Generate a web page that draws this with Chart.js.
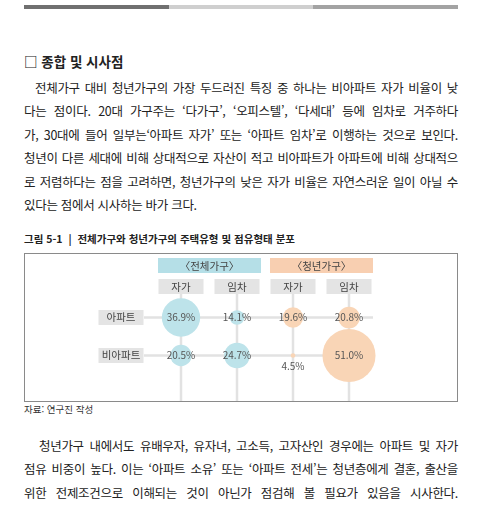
<!DOCTYPE html>
<html lang="ko">
<head>
<meta charset="utf-8">
<script src="https://cdn.jsdelivr.net/npm/chart.js@4.4.1/dist/chart.umd.min.js"></script>
<style>
  body { margin: 0; background: #fff; width: 480px; height: 505px; overflow: hidden;
         font-family: "Noto Sans CJK KR", sans-serif; color: #222; }
  .abs { position: absolute; }
  .bar { position: absolute; top: 5px; height: 4px; }
  .line { display: block; text-align: justify; text-align-last: justify; white-space: nowrap; }
  .para { position: absolute; left: 24px; width: 434px; font-size: 12.5px; line-height: 23.4px; letter-spacing: -0.3px; }
  .para .line { white-space: normal; }
  #box { position: absolute; left: 24px; top: 253px; width: 434px; height: 149px;
         border: 1px solid #8a8a8a; box-sizing: border-box; }
</style>
</head>
<body>
<div class="bar" style="left:24px;width:145px;background:#707070"></div>
<div class="bar" style="left:169px;width:144px;background:#cfcfcf"></div>
<div class="bar" style="left:313px;width:145px;background:#a3a3a3"></div>

<div class="abs" style="left:24px;top:51px;font-size:13.5px;font-weight:bold;color:#222">□ 종합 및 시사점</div>

<div class="para" style="top:76px">
  <span class="line" style="padding-left:11px">전체가구 대비 청년가구의 가장 두드러진 특징 중 하나는 비아파트 자가 비율이 낮</span>
  <span class="line">다는 점이다. 20대 가구주는 ‘다가구’, ‘오피스텔’, ‘다세대’ 등에 임차로 거주하다</span>
  <span class="line">가, 30대에 들어 일부는‘아파트 자가’ 또는 ‘아파트 임차’로 이행하는 것으로 보인다.</span>
  <span class="line">청년이 다른 세대에 비해 상대적으로 자산이 적고 비아파트가 아파트에 비해 상대적으</span>
  <span class="line">로 저렴하다는 점을 고려하면, 청년가구의 낮은 자가 비율은 자연스러운 일이 아닐 수</span>
  <span class="line" style="text-align-last:left">있다는 점에서 시사하는 바가 크다.</span>
</div>

<div class="abs" style="left:24px;top:231px;font-size:10.5px;font-weight:bold;color:#222">그림 5-1 &nbsp;|&nbsp; 전체가구와 청년가구의 주택유형 및 점유형태 분포</div>

<div id="box"><canvas id="bubbleChart" width="432" height="147"></canvas></div>

<div class="abs" style="left:24px;top:402px;font-size:9.5px;color:#333">자료: 연구진 작성</div>

<div class="para" style="top:434px">
  <span class="line" style="padding-left:15px">청년가구 내에서도 유배우자, 유자녀, 고소득, 고자산인 경우에는 아파트 및 자가</span>
  <span class="line">점유 비중이 높다. 이는 ‘아파트 소유’ 또는 ‘아파트 전세’는 청년층에게 결혼, 출산을</span>
  <span class="line">위한 전제조건으로 이해되는 것이 아닌가 점검해 볼 필요가 있음을 시사한다.</span>
</div>

<script>
var groups = ['〈전체가구〉', '〈청년가구〉'];
var tenures = ['자가', '임차', '자가', '임차'];
var housingTypes = ['아파트', '비아파트'];

// [자가, 임차] in %
var totalApt = [36.9, 14.1];
var totalNonApt = [20.5, 24.7];
var youthApt = [19.6, 20.8];
var youthNonApt = [4.5, 51.0];

function points(apt, nonApt, offset) {
    var out = [];
    apt.forEach(function (v, i) { out.push({ x: offset + i, y: 0, v: v }); });
    nonApt.forEach(function (v, i) { out.push({ x: offset + i, y: 1, v: v }); });
    return out;
}

var frame = {
    id: 'frame',
    beforeDatasetsDraw: function (chart) {
        var c = chart.ctx, xs = chart.scales.x, ys = chart.scales.y;
        c.save();
        // grid lines
        c.strokeStyle = '#e2e2e2';
        c.lineWidth = 2.5;
        housingTypes.forEach(function (t, j) {
            var y = ys.getPixelForValue(j);
            c.beginPath();
            c.moveTo(xs.getPixelForValue(0) - 37, y);
            c.lineTo(xs.getPixelForValue(3) + 24, y);
            c.stroke();
        });
        tenures.forEach(function (t, i) {
            var x = xs.getPixelForValue(i);
            c.beginPath();
            c.moveTo(x, 40);
            c.lineTo(x, chart.height);
            c.stroke();
        });
        // header boxes
        c.font = '10.5px "Noto Sans CJK KR"';
        c.textAlign = 'center';
        c.textBaseline = 'middle';
        var groupFill = ['#b5dfe7', '#f8cfb1'];
        groups.forEach(function (g, k) {
            var x0 = xs.getPixelForValue(2 * k) - 23, x1 = xs.getPixelForValue(2 * k + 1) + 24;
            c.fillStyle = groupFill[k];
            c.fillRect(x0, 4, x1 - x0, 15);
            c.fillStyle = '#444';
            c.fillText(g, (x0 + x1) / 2, 12);
        });
        tenures.forEach(function (t, i) {
            var x = xs.getPixelForValue(i);
            c.fillStyle = '#e4e4e4';
            c.fillRect(x - 22.5, 25, 45, 15);
            c.fillStyle = '#444';
            c.fillText(t, x, 33);
        });
        housingTypes.forEach(function (t, j) {
            var y = ys.getPixelForValue(j), x = xs.getPixelForValue(0) - 60;
            c.fillStyle = '#e4e4e4';
            c.fillRect(x - 22.5, y - 7.5, 45, 15);
            c.fillStyle = '#444';
            c.fillText(t, x, y);
        });
        c.restore();
    },
    afterDatasetsDraw: function (chart) {
        var c = chart.ctx;
        c.save();
        c.font = '10px "Noto Sans CJK KR"';
        c.fillStyle = '#555';
        c.textAlign = 'center';
        c.textBaseline = 'middle';
        chart.data.datasets.forEach(function (ds, d) {
            chart.getDatasetMeta(d).data.forEach(function (el, i) {
                var v = ds.data[i].v;
                var dy = v < 8 ? 11 : 0;
                c.fillText(v.toFixed(1) + '%', el.x, el.y + dy);
            });
        });
        c.restore();
    }
};

new Chart(document.getElementById('bubbleChart'), {
    type: 'bubble',
    data: {
        datasets: [{
            label: groups[0],
            data: points(totalApt, totalNonApt, 0),
            backgroundColor: '#bde3ea'
        }, {
            label: groups[1],
            data: points(youthApt, youthNonApt, 2),
            backgroundColor: '#f9d5b6'
        }]
    },
    options: {
        responsive: false,
        animation: false,
        devicePixelRatio: 1,
        layout: { padding: { left: 128, right: 80, top: 44.5, bottom: 12.5 } },
        elements: {
            point: {
                radius: function (ctx) { return ctx.raw ? ctx.raw.v * 0.52 : 0; },
                borderWidth: 0,
                hoverRadius: 0
            }
        },
        scales: {
            x: { type: 'linear', min: -0.5, max: 3.5, display: false },
            y: { type: 'linear', min: -0.5, max: 1.5, reverse: true, display: false }
        },
        plugins: { legend: { display: false }, tooltip: { enabled: false } },
        clip: false
    },
    plugins: [frame]
});
</script>
</body>
</html>
